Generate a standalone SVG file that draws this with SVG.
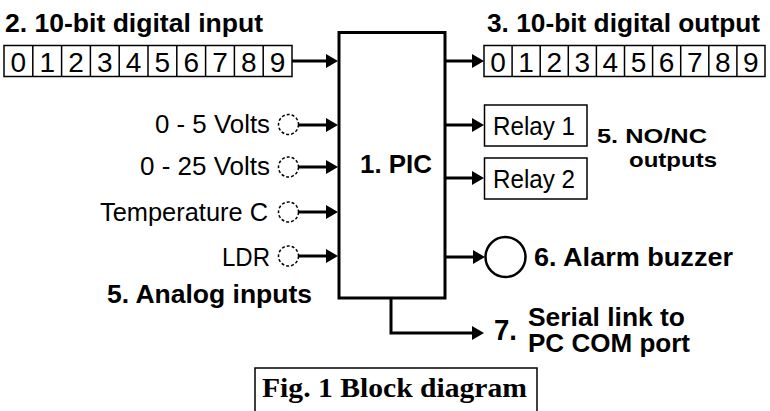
<svg xmlns="http://www.w3.org/2000/svg" width="770" height="411" viewBox="0 0 770 411">
<style>
.b{font-family:"Liberation Sans",Arial,sans-serif;font-weight:bold;font-size:25px;fill:#000}
.n{font-family:"Liberation Sans",Arial,sans-serif;font-size:25px;fill:#000}
.d{font-family:"Liberation Sans",Arial,sans-serif;font-size:28px;fill:#000;text-anchor:middle}
.f{font-family:"Liberation Serif","Times New Roman",serif;font-weight:bold;font-size:28px;fill:#000}
.reg{fill:#fff;stroke:#000;stroke-width:1.5}
.w{fill:#fff;stroke:#000;stroke-width:3}
.ln{fill:none;stroke:#000;stroke-width:3}
.io{fill:#fff;stroke:#000;stroke-width:1.5;stroke-dasharray:3 2}
.bz{fill:#fff;stroke:#000;stroke-width:2.5}
</style>
<defs>
<marker id="ah" markerUnits="userSpaceOnUse" markerWidth="12" markerHeight="14" refX="4" refY="7" orient="auto"><path d="M0,0 L12,7 L0,14 Z" fill="#000"/></marker>
</defs>
<rect width="770" height="411" fill="#fff"/>

<g id="connectors" class="ln" marker-end="url(#ah)">
<path d="M292,61 H330"/>
<path d="M446,61 H476"/>
<path d="M299,125 H330"/>
<path d="M299,167 H330"/>
<path d="M299,212 H330"/>
<path d="M299,256 H330"/>
<path d="M446,125 H476"/>
<path d="M446,178 H476"/>
<path d="M446,257 H477"/>
<path d="M391,299 V333 H476"/>
</g>

<g id="pic">
<rect class="w" x="339" y="32.5" width="106" height="265.5"/>
<text class="b" x="360" y="173" textLength="72" lengthAdjust="spacingAndGlyphs">1. PIC</text>
</g>

<g id="digital-input">
<text class="b" x="5" y="32" textLength="258" lengthAdjust="spacingAndGlyphs">2. 10-bit digital input</text>
<rect class="reg" x="4" y="45.5" width="288" height="31"/>
<path d="M32.8,45.5V76.5M61.6,45.5V76.5M90.4,45.5V76.5M119.2,45.5V76.5M148,45.5V76.5M176.8,45.5V76.5M205.6,45.5V76.5M234.4,45.5V76.5M263.2,45.5V76.5" stroke="#000" stroke-width="1.5"/>
<text class="d" y="72"><tspan x="18.4">0</tspan><tspan x="47.2">1</tspan><tspan x="76">2</tspan><tspan x="104.8">3</tspan><tspan x="133.6">4</tspan><tspan x="162.4">5</tspan><tspan x="191.2">6</tspan><tspan x="220">7</tspan><tspan x="248.8">8</tspan><tspan x="277.6">9</tspan></text>
</g>

<g id="digital-output">
<text class="b" x="487" y="32" textLength="273" lengthAdjust="spacingAndGlyphs">3. 10-bit digital output</text>
<rect class="reg" x="484" y="45.5" width="281" height="31"/>
<path d="M512.1,45.5V76.5M540.2,45.5V76.5M568.3,45.5V76.5M596.4,45.5V76.5M624.5,45.5V76.5M652.6,45.5V76.5M680.7,45.5V76.5M708.8,45.5V76.5M736.9,45.5V76.5" stroke="#000" stroke-width="1.5"/>
<text class="d" y="72"><tspan x="498">0</tspan><tspan x="526.1">1</tspan><tspan x="554.2">2</tspan><tspan x="582.3">3</tspan><tspan x="610.4">4</tspan><tspan x="638.5">5</tspan><tspan x="666.6">6</tspan><tspan x="694.7">7</tspan><tspan x="722.8">8</tspan><tspan x="750.9">9</tspan></text>
</g>

<g id="in-5v">
<text class="n" x="155" y="133" textLength="115" lengthAdjust="spacingAndGlyphs">0 - 5 Volts</text>
<circle class="io" cx="288.5" cy="124.5" r="10"/>
</g>
<g id="in-25v">
<text class="n" x="140" y="175" textLength="130" lengthAdjust="spacingAndGlyphs">0 - 25 Volts</text>
<circle class="io" cx="288.5" cy="167" r="10"/>
</g>
<g id="in-temp">
<text class="n" x="100" y="221" textLength="168" lengthAdjust="spacingAndGlyphs">Temperature C</text>
<circle class="io" cx="288.5" cy="212" r="10"/>
</g>
<g id="in-ldr">
<text class="n" x="222" y="266" textLength="48" lengthAdjust="spacingAndGlyphs">LDR</text>
<circle class="io" cx="288.5" cy="256" r="10"/>
</g>
<g id="analog-label">
<text class="b" x="107" y="303" textLength="205" lengthAdjust="spacingAndGlyphs">5. Analog inputs</text>
</g>

<g id="relay1">
<rect class="reg" x="484.5" y="105" width="102.5" height="41"/>
<text class="n" x="493" y="135" textLength="82" lengthAdjust="spacingAndGlyphs">Relay 1</text>
</g>
<g id="relay2">
<rect class="reg" x="484.5" y="158" width="102.5" height="41"/>
<text class="n" x="493" y="188" textLength="82" lengthAdjust="spacingAndGlyphs">Relay 2</text>
</g>
<g id="relay-label">
<text class="b" x="597" y="143" style="font-size:21px" textLength="110" lengthAdjust="spacingAndGlyphs">5. NO/NC</text>
<text class="b" x="629" y="167" style="font-size:21px" textLength="88" lengthAdjust="spacingAndGlyphs">outputs</text>
</g>

<g id="buzzer">
<circle class="bz" cx="505.5" cy="257" r="20"/>
<text class="b" x="534" y="266" textLength="199" lengthAdjust="spacingAndGlyphs">6. Alarm buzzer</text>
</g>

<g id="serial">
<text class="b" x="494" y="340" style="font-size:30px" textLength="23" lengthAdjust="spacingAndGlyphs">7.</text>
<text class="b" x="528" y="326" textLength="157" lengthAdjust="spacingAndGlyphs">Serial link to</text>
<text class="b" x="528" y="352" textLength="162" lengthAdjust="spacingAndGlyphs">PC COM port</text>
</g>

<g id="caption">
<rect x="255" y="368" width="282" height="60" fill="none" stroke="#000" stroke-width="1.5"/>
<text class="f" x="262" y="397" textLength="265" lengthAdjust="spacingAndGlyphs">Fig. 1 Block diagram</text>
</g>
</svg>
